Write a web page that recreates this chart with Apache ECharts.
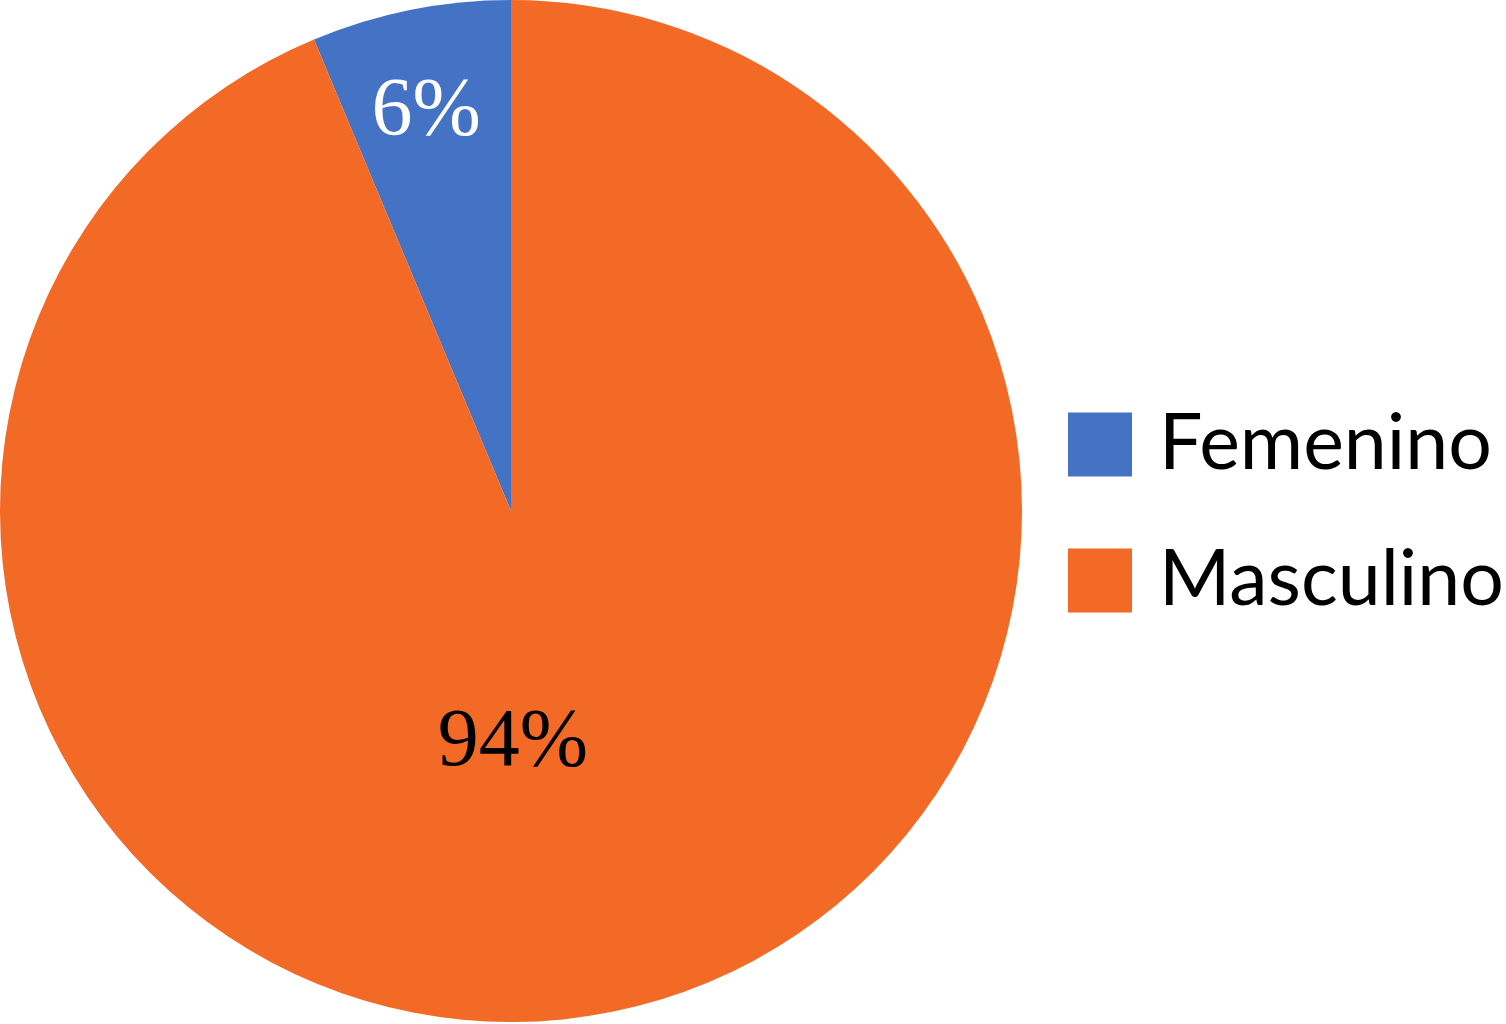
<!DOCTYPE html>
<html>
<head>
<meta charset="utf-8">
<script src="https://cdn.jsdelivr.net/npm/echarts@6/dist/echarts.min.js"></script>
<style>html,body{margin:0;padding:0;background:#fff;}#chart{width:1506px;height:1024px;}</style>
</head>
<body>
<div id="chart"></div>
<script>
var categories = ['Femenino', 'Masculino'];
var values = [6.3, 93.7];
var colors = ['#4472C4', '#F26A25'];
var labelColors = ['#ffffff', '#000000'];
var labelOffsets = [[-34, -145], [-49, -21]];

var chart = echarts.init(document.getElementById('chart'), null, {renderer: 'canvas'});
var data = categories.map(function (c, i) {
  return {
    name: c,
    value: values[i],
    itemStyle: {color: colors[i]},
    label: {color: labelColors[i], offset: labelOffsets[i]}
  };
});
chart.setOption({
  animation: false,
  legend: {
    data: categories,
    orient: 'vertical',
    left: 1068,
    top: 406,
    padding: 0,
    itemWidth: 64,
    itemHeight: 64,
    itemGap: 59,
    icon: 'rect',
    textStyle: {fontFamily: 'Lato', fontSize: 77, color: '#000', padding: [0, 0, 0, 22]}
  },
  series: [{
    type: 'pie',
    center: [511, 511],
    radius: [0, 511],
    startAngle: 90,
    clockwise: false,
    label: {
      show: true,
      position: 'inside',
      fontFamily: 'Liberation Serif',
      fontSize: 82,
      formatter: function (p) { return Math.round(p.percent) + '%'; }
    },
    labelLine: {show: false},
    emphasis: {disabled: true},
    data: data
  }]
});
</script>
</body>
</html>
